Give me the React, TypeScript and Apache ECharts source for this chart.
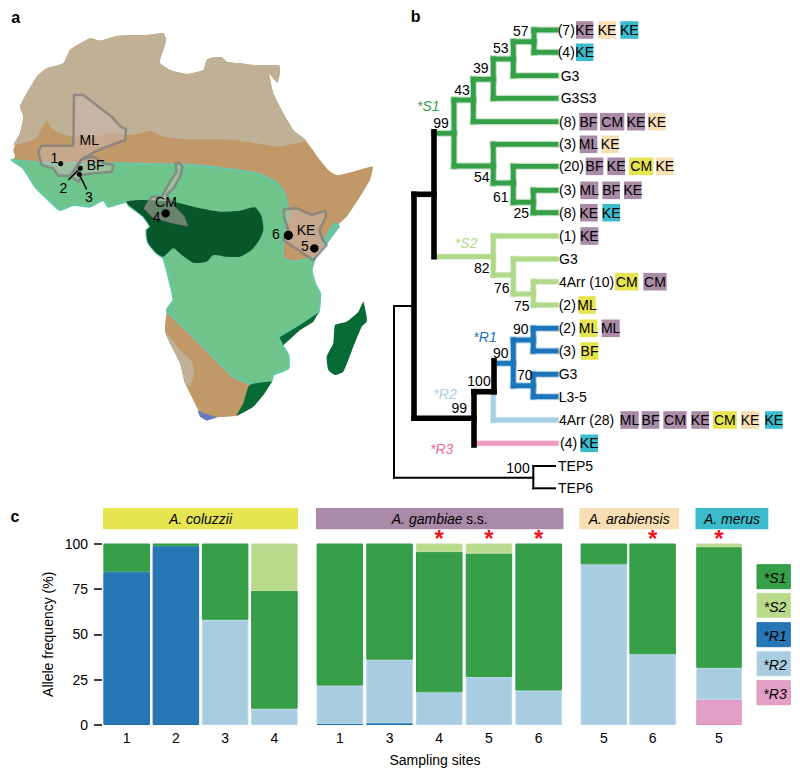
import React, { useEffect, useRef } from "react";
import * as echarts from "echarts";

const FONT = "Liberation Sans";

// ---------- panel c data ----------
const coluzziiSites = ["1", "2", "3", "4"];
const coluzziiS1 = [15.5, 1.5, 42, 65];
const coluzziiS2 = [null, null, null, 26];
const coluzziiR1 = [84.5, 98.5, null, null];
const coluzziiR2 = [null, null, 58, 9];
const coluzziiR3 = [null, null, null, null];

const gambiaeSites = ["1", "3", "4", "5", "6"];
const gambiaeS1 = [78.3, 64, 77.5, 68, 81];
const gambiaeS2 = [null, null, 4.5, 5.5, null];
const gambiaeR1 = [0.7, 1, null, null, null];
const gambiaeR2 = [21, 35, 18, 26.5, 19];
const gambiaeR3 = [null, null, null, null, null];

const arabiensisSites = ["5", "6"];
const arabiensisS1 = [11.5, 61];
const arabiensisS2 = [null, null];
const arabiensisR1 = [null, null];
const arabiensisR2 = [88.5, 39];
const arabiensisR3 = [null, null];

const merusSites = ["5"];
const merusS1 = [66.5];
const merusS2 = [2];
const merusR1 = [null];
const merusR2 = [17.5];
const merusR3 = [14];

const gambiaeStars = [2, 3, 4];
const arabiensisStars = [1];
const merusStars = [0];

const alleleNames = ["*S1", "*S2", "*R1", "*R2", "*R3"];
const alleleFill: Record<string, string> = { "*S1": "#379f47", "*S2": "#b9d98b", "*R1": "#2777b4", "*R2": "#a8cde1", "*R3": "#e39fc6" };
const alleleEdge: Record<string, string> = { "*S1": "#2f9a45", "*S2": "#c2de99", "*R1": "#1b6fb0", "*R2": "#b4d5e6", "*R3": "#e294c0" };

const speciesNames = ["A. coluzzii", "A. gambiae s.s.", "A. arabiensis", "A. merus"];
const speciesColors = ["#e6e44f", "#a98ba8", "#f8deb3", "#3bbccc"];

// ---------- panel a data (map outlines) ----------
const africaOutline = [[270,115],[300,122],[350,108],[400,105],[440,105],[490,100],[497,115],[495,135],[482,172],[480,190],[510,210],[560,222],[610,210],[620,180],[640,172],[665,172],[680,185],[720,190],[760,195],[800,195],[838,197],[840,215],[832,248],[808,222],[820,280],[850,340],[880,390],[920,425],[960,480],[985,510],[1010,525],[1060,515],[1118,500],[1110,540],[1080,590],[1040,650],[990,695],[975,720],[975,735],[945,770],[935,810],[945,850],[960,880],[955,935],[940,965],[900,990],[850,1035],[865,1065],[865,1105],[820,1125],[815,1145],[790,1185],[760,1220],[710,1247],[650,1252],[620,1260],[595,1230],[575,1190],[555,1150],[540,1090],[510,1030],[495,995],[500,935],[520,900],[510,850],[490,775],[470,760],[445,730],[440,710],[440,690],[450,680],[430,650],[385,615],[380,605],[325,620],[310,600],[270,620],[220,615],[180,630],[140,595],[105,560],[70,505],[35,480],[45,470],[40,450],[60,400],[70,350],[60,320],[80,280],[110,230],[140,205],[190,190],[210,150]];
const saharaRegion = [[40,435],[60,400],[70,350],[60,320],[80,280],[110,230],[140,205],[190,190],[210,150],[270,115],[300,122],[350,108],[400,105],[440,105],[490,100],[497,115],[495,135],[482,172],[480,190],[510,210],[560,222],[610,210],[620,180],[640,172],[665,172],[680,185],[720,190],[760,195],[800,195],[838,197],[840,215],[832,248],[808,222],[820,280],[850,340],[880,390],[920,422],[880,432],[830,440],[770,430],[700,420],[620,418],[560,418],[490,410],[450,392],[420,400],[390,405],[330,398],[290,412],[240,412],[185,403],[155,385],[140,362],[128,380],[105,418]];
const greenRegion = [[35,480],[60,482],[120,488],[330,490],[600,497],[770,520],[830,548],[855,585],[867,640],[855,690],[850,720],[848,750],[850,775],[880,785],[920,778],[945,770],[935,810],[945,850],[960,880],[955,938],[900,975],[838,1012],[850,1040],[865,1065],[865,1105],[820,1125],[812,1148],[755,1152],[700,1130],[620,1050],[560,990],[500,932],[520,900],[510,850],[490,775],[470,760],[445,730],[440,710],[440,690],[450,680],[430,650],[385,615],[380,605],[325,620],[310,600],[270,620],[220,615],[180,630],[140,595],[105,560],[70,505]];
const centralForest = [[380,605],[420,600],[520,605],[600,625],[660,635],[720,632],[765,622],[785,650],[790,690],[778,720],[755,750],[720,770],[680,770],[640,765],[620,785],[580,788],[545,765],[520,745],[490,770],[470,760],[445,730],[440,710],[440,690],[450,680],[430,650],[385,615]];
const mozambiqueStrip = [[955,938],[900,975],[838,1012],[850,1036],[900,990],[940,965]];
const capeStrip = [[815,1145],[790,1185],[760,1220],[710,1247],[730,1210],[745,1160],[755,1152]];
const madagascar = [[1090,905],[1100,950],[1100,965],[1085,980],[1060,1040],[1030,1115],[1005,1125],[985,1110],[980,1070],[1000,1030],[1005,975],[1040,965],[1075,935]];
const namibDesert = [[497,995],[540,1050],[575,1085],[582,1115],[570,1160],[555,1150],[540,1090],[510,1030]];
const capeBlue = [[592,1230],[610,1240],[652,1252],[620,1262],[600,1250]];
const coastStrip = [[1000,670],[1015,668],[1020,680],[975,740],[960,735],[985,690]];
const mali = [[222,285],[250,285],[335,350],[362,380],[378,388],[375,420],[320,440],[285,455],[245,478],[230,500],[210,527],[175,527],[160,505],[125,495],[115,455],[125,437],[220,437]];
const burkina = [[245,478],[280,470],[310,490],[340,495],[335,515],[280,520],[245,525],[235,545],[215,530],[230,500]];
const cameroon = [[535,487],[547,500],[540,530],[520,565],[500,585],[525,625],[550,650],[560,675],[510,665],[460,650],[435,625],[455,590],[485,590],[510,545],[530,515],[527,490]];
const kenya = [[852,628],[890,625],[935,645],[975,632],[978,650],[958,690],[968,720],[980,735],[940,780],[850,720],[865,690],[852,650]];

const COUNTRY_FILL = "rgba(205,185,180,0.48)";
const COUNTRY_EDGE = "rgba(128,128,124,0.8)";
const mapLayers = [
  { pts: africaOutline, fill: "#c19868", smooth: 0.15 },
  { pts: saharaRegion, fill: "#c0b196", smooth: 0.15 },
  { pts: greenRegion, fill: "#6fc48b", edge: "#66c9a8", lw: 2, smooth: 0.15 },
  { pts: centralForest, fill: "#08562a", smooth: 0.2 },
  { pts: mozambiqueStrip, fill: "#066a35", smooth: 0 },
  { pts: capeStrip, fill: "#066a35", smooth: 0.1 },
  { pts: madagascar, fill: "#066a35", smooth: 0.15 },
  { pts: namibDesert, fill: "#c0b196", smooth: 0.2 },
  { pts: capeBlue, fill: "#6379c0", smooth: 0 },
  { pts: coastStrip, fill: "#6fc4a0", smooth: 0 },
  { pts: mali, fill: COUNTRY_FILL, edge: COUNTRY_EDGE, lw: 2.5, smooth: 0 },
  { pts: burkina, fill: COUNTRY_FILL, edge: COUNTRY_EDGE, lw: 2.5, smooth: 0 },
  { pts: cameroon, fill: COUNTRY_FILL, edge: COUNTRY_EDGE, lw: 2.5, smooth: 0 },
  { pts: kenya, fill: COUNTRY_FILL, edge: COUNTRY_EDGE, lw: 2.5, smooth: 0 },
];

const mapLabels: [number, number, string][] = [[268,420,"ML"],[287,495,"BF"],[498,606,"CM"],[918,690,"KE"],[163,473,"1"],[190,563,"2"],[267,592,"3"],[470,650,"4"],[915,737,"5"],[828,703,"6"]];
const siteDots = [[182,491,2.6],[241,505,2.6],[238,523,2.6],[497,640,4.2],[943,745,4.2],[865,706,4.6]];
const leaderLines = [[241,505,205,540],[238,523,260,568]];

// ---------- panel b data (tree) ----------
const S1 = "#35a047", S2 = "#b2d98a", R1 = "#1b75bb", R2 = "#a8cfe3", R3 = "#f09cc0", BK = "#000000";
const s1Branches = [[434,133.3,454,133.3],[454,100,454,166],[454,100,473.3,100],[473.3,79.3,473.3,121.7],[473.3,121.7,556,121.7],[473.3,79.3,493.3,79.3],[493.3,59,493.3,98.3],[493.3,98.3,556,98.3],[493.3,59,513.3,59],[513.3,41.7,513.3,75.7],[513.3,75.7,556,75.7],[513.3,41.7,534,41.7],[534,30,534,52.3],[534,30,556,30],[534,52.3,556,52.3],[454,166,493.3,166],[493.3,144.3,493.3,183],[493.3,144.3,556,144.3],[493.3,183,513.3,183],[513.3,166.3,513.3,202.3],[513.3,166.3,556,166.3],[513.3,202.3,533.3,202.3],[533.3,190.3,533.3,212.7],[533.3,190.3,556,190.3],[533.3,212.7,556,212.7]];
const s2Branches = [[436,256.7,493.3,256.7],[493.3,236,493.3,275],[493.3,236,556,236],[493.3,275,513.3,275],[513.3,259,513.3,294],[513.3,259,556,259],[513.3,294,533.3,294],[533.3,281.7,533.3,305],[533.3,281.7,556,281.7],[533.3,305,556,305]];
const r1Branches = [[496,363.3,513.3,363.3],[513.3,340,513.3,385.7],[513.3,340,533.3,340],[533.3,328.3,533.3,351],[533.3,328.3,556,328.3],[533.3,351,556,351],[513.3,385.7,533.3,385.7],[533.3,374.3,533.3,396.7],[533.3,374.3,556,374.3],[533.3,396.7,556,396.7]];
const r2Branches = [[493.3,394,493.3,420],[493.3,420,556,420]];
const r3Branches = [[476,443.3,556,443.3]];
const thickBlack = [[434,131.7,434,256.7],[414,194.3,434,194.3],[414,194.3,414,418.3],[414,418.3,474,418.3],[474,391.7,474,445],[474,391.7,494,391.7],[494,360.7,494,391.7]];
const thinBlack = [[394,306,414,306],[394,306,394,477.7],[394,477.7,533.3,477.7],[533.3,466,533.3,488.3],[533.3,466,555,466],[533.3,488.3,555,488.3]];
const branchStyles = [
  { segs: thinBlack, color: BK, width: 2, halo: 0 },
  { segs: s1Branches, color: S1, width: 4.8, halo: 7 },
  { segs: s2Branches, color: S2, width: 4.8, halo: 6.5 },
  { segs: r1Branches, color: R1, width: 4.8, halo: 7 },
  { segs: r2Branches, color: R2, width: 4.8, halo: 6.5 },
  { segs: r3Branches, color: R3, width: 4.8, halo: 6.5 },
  { segs: thickBlack, color: BK, width: 5.6, halo: 0 },
];

const supportLabels: [number, number, string][] = [[520.7,30.7,"57"],[500.7,48.3,"53"],[480.7,68.3,"39"],[462,90,"43"],[441,122.7,"99"],[481.7,176.7,"54"],[500.7,196.7,"61"],[521.3,213.3,"25"],[481.7,268.3,"82"],[501.7,288.3,"76"],[521.7,305.7,"75"],[520.7,329.3,"90"],[500.7,352.7,"90"],[524.7,374.7,"70"],[479,381,"100"],[459.3,407.7,"99"],[518,467.7,"100"]];
const cladeLabels: [number, number, string, string][] = [[428.3,106,"*S1",S1],[466,243.3,"*S2",S2],[485,336.7,"*R1",R1],[445,394,"*R2",R2],[441.7,449.3,"*R3","#ee6aa0"]];
const leafTexts: [number, number, string][] = [[557.7,30,"(7)"],[557.7,52.3,"(4)"],[560.7,75.7,"G3"],[560.7,98.3,"G3S3"],[559,121.7,"(8)"],[559,144.3,"(3)"],[559,166.3,"(20)"],[559,190.3,"(3)"],[559,212.7,"(8)"],[559,236,"(1)"],[559,259,"G3"],[559,281.7,"4Arr (10)"],[558.7,305,"(2)"],[558.7,328.3,"(2)"],[558.7,351,"(3)"],[558.7,374.3,"G3"],[558.7,396.7,"L3-5"],[559,420,"4Arr (28)"],[560,443.3,"(4)"],[558,466,"TEP5"],[558,488.3,"TEP6"]];
const P = "#a98ba8", Y = "#e6e44f", B = "#f8deb3", T = "#3bbccc";
const tagRows: [number, [number, number, string, string][]][] = [
  [30, [[558,610,"KE",P],[625,677,"KE",B],[691,745,"KE",T]]],
  [52.3, [[558,610,"KE",T]]],
  [121.7, [[568,622,"BF",P],[630,703,"CM",P],[711,765,"KE",P],[774,827,"KE",B]]],
  [144.3, [[569,622,"ML",P],[634,687,"KE",B]]],
  [166.3, [[587,640,"BF",P],[652,705,"KE",P],[717,790,"CM",Y],[798,851,"KE",B]]],
  [190.3, [[571,625,"ML",P],[637,690,"BF",P],[702,755,"KE",P]]],
  [212.7, [[570,623,"KE",P],[637,690,"KE",T]]],
  [236, [[571,625,"KE",P]]],
  [281.7, [[675,745,"CM",Y],[760,830,"CM",P]]],
  [305, [[565,617,"ML",Y]]],
  [328.3, [[569,622,"ML",Y],[635,689,"ML",P]]],
  [351, [[572,625,"BF",Y]]],
  [420, [[691,746,"ML",P],[755,808,"BF",P],[820,890,"CM",P],[904,957,"KE",P],[969,1040,"CM",Y],[1053,1107,"KE",B],[1125,1178,"KE",T]]],
  [443.3, [[571,624,"KE",T]]],
];

const legendTops = [564.7, 593.3, 622.7, 651.7, 680.7];

function textEl(x: number, y: number, text: string, opts: any = {}) {
  return {
    type: "text", x, y, z: 20, silent: true,
    style: { text, fontFamily: FONT, fontSize: 14, fill: "#000", align: "center", verticalAlign: "middle", ...opts },
  };
}

function buildOption() {
  const panels = [
    { left: 102, width: 197, cats: coluzziiSites, S1: coluzziiS1, S2: coluzziiS2, R1: coluzziiR1, R2: coluzziiR2, R3: coluzziiR3, stars: [] as number[], bw: 46.5 },
    { left: 315, width: 248.5, cats: gambiaeSites, S1: gambiaeS1, S2: gambiaeS2, R1: gambiaeR1, R2: gambiaeR2, R3: gambiaeR3, stars: gambiaeStars, bw: 46.5 },
    { left: 579.5, width: 97.5, cats: arabiensisSites, S1: arabiensisS1, S2: arabiensisS2, R1: arabiensisR1, R2: arabiensisR2, R3: arabiensisR3, stars: arabiensisStars, bw: 46.5 },
    { left: 696, width: 46, cats: merusSites, S1: merusS1, S2: merusS2, R1: merusR1, R2: merusR2, R3: merusR3, stars: merusStars, bw: 45.5 },
  ];
  const grid: any[] = panels.map((p) => ({ left: p.left, width: p.width, top: 543.5, height: 181.5 }));
  grid.push({ left: 0, top: 0, width: 400, height: 500 });
  grid.push({ left: 0, top: 0, width: 800, height: 500 });

  const xAxis: any[] = panels.map((p, i) => ({
    type: "category", gridIndex: i, data: p.cats,
    axisLine: { show: false }, axisTick: { show: false },
    axisLabel: { fontFamily: FONT, fontSize: 14, color: "#000", margin: 6 },
  }));
  const yAxis: any[] = panels.map((p, i) => ({
    type: "value", gridIndex: i, min: 0, max: 100, interval: 25, show: i === 0,
    axisLine: { show: false }, splitLine: { show: false },
    axisTick: { show: true, length: 8, lineStyle: { color: "#000", width: 1.5 } },
    axisLabel: { fontFamily: FONT, fontSize: 14, color: "#000", margin: 14 },
    name: "Allele frequency (%)", nameLocation: "middle", nameGap: 47, nameRotate: 90,
    nameTextStyle: { fontFamily: FONT, fontSize: 14, color: "#000" },
  }));
  xAxis.push({ type: "value", gridIndex: 4, min: 0, max: 1200, show: false });
  yAxis.push({ type: "value", gridIndex: 4, min: 0, max: 1500, inverse: true, show: false });
  xAxis.push({ type: "value", gridIndex: 5, min: 0, max: 800, show: false });
  yAxis.push({ type: "value", gridIndex: 5, min: 0, max: 500, inverse: true, show: false });

  const series: any[] = [];
  // map
  series.push({
    type: "custom", xAxisIndex: 4, yAxisIndex: 4, silent: true, z: 1,
    data: mapLayers.map((_, i) => [i]),
    renderItem: (params: any, api: any) => {
      const l: any = mapLayers[params.dataIndex];
      return {
        type: "polygon",
        shape: { points: l.pts.map((p: number[]) => api.coord(p)), smooth: l.smooth },
        style: { fill: l.fill, stroke: l.edge || "none", lineWidth: l.lw || 0, lineJoin: "round" },
      };
    },
  });
  // leader lines + site dots
  series.push({
    type: "custom", xAxisIndex: 4, yAxisIndex: 4, silent: true, z: 2,
    data: leaderLines,
    renderItem: (_: any, api: any) => {
      const a = api.coord([api.value(0), api.value(1)]);
      const b = api.coord([api.value(2), api.value(3)]);
      return { type: "line", shape: { x1: a[0], y1: a[1], x2: b[0], y2: b[1] }, style: { stroke: "#000", lineWidth: 1.4 } };
    },
  });
  series.push({
    type: "custom", xAxisIndex: 4, yAxisIndex: 4, silent: true, z: 3,
    data: siteDots,
    renderItem: (_: any, api: any) => {
      const a = api.coord([api.value(0), api.value(1)]);
      return { type: "circle", shape: { cx: a[0], cy: a[1], r: api.value(2) }, style: { fill: "#000" } };
    },
  });
  // tree: a pale halo pass below each clade, then the branch itself
  branchStyles.forEach((b, k) => {
    const draw = (stroke: string, lineWidth: number, opacity: number) => (_: any, api: any) => {
      const p = api.coord([api.value(0), api.value(1)]);
      const q = api.coord([api.value(2), api.value(3)]);
      return { type: "line", shape: { x1: p[0], y1: p[1], x2: q[0], y2: q[1] }, style: { stroke, lineWidth, opacity, lineCap: "square" } };
    };
    if (b.halo) {
      series.push({ type: "custom", xAxisIndex: 5, yAxisIndex: 5, silent: true, z: 4, data: b.segs, renderItem: draw(b.color, b.halo, 0.3) });
    }
    series.push({ type: "custom", xAxisIndex: 5, yAxisIndex: 5, silent: true, z: 5 + k, data: b.segs, renderItem: draw(b.color, b.width, 1) });
  });
  // bars
  panels.forEach((p: any, i) => {
    ["*R3", "*R1", "*R2", "*S1", "*S2"].forEach((name) => {
      const key = name.slice(1);
      series.push({
        type: "bar", name, xAxisIndex: i, yAxisIndex: i, stack: "s" + i, barWidth: p.bw, silent: true,
        data: p[key],
        itemStyle: { color: alleleFill[name], borderColor: alleleEdge[name], borderWidth: 1 },
      });
    });
    if (p.stars.length) {
      series.push({
        type: "custom", xAxisIndex: i, yAxisIndex: i, silent: true, z: 12,
        data: p.stars.map((s: number) => [s, 100]),
        renderItem: (_: any, api: any) => {
          const c = api.coord([api.value(0), api.value(1)]);
          return {
            type: "text", x: c[0], y: c[1] - 5,
            style: { text: "*", fontFamily: FONT, fontWeight: "bold", fontSize: 24, fill: "#f0141e", align: "center", verticalAlign: "middle" },
          };
        },
      });
    }
  });

  // graphics
  const g: any[] = [];
  g.push(textEl(15.7, 17, "a", { fontWeight: "bold", fontSize: 16 }));
  g.push(textEl(415.7, 16, "b", { fontWeight: "bold", fontSize: 16 }));
  g.push(textEl(15, 516.5, "c", { fontWeight: "bold", fontSize: 16 }));
  mapLabels.forEach(([x, y, t]) => g.push(textEl(x / 3, y / 3, t)));
  supportLabels.forEach(([x, y, t]) => g.push(textEl(x, y, t)));
  cladeLabels.forEach(([x, y, t, c]) => g.push(textEl(x, y, t, { fill: c, fontStyle: "italic" })));
  leafTexts.forEach(([x, y, t]) => g.push(textEl(x, y, t, { align: "left" })));
  tagRows.forEach(([y, items]) => {
    items.forEach(([a, b, t, c]) => {
      const x0 = 390 + a / 3, x1 = 390 + b / 3;
      g.push({ type: "rect", z: 15, silent: true, shape: { x: x0, y: y - 8.8, width: x1 - x0, height: 17.6 }, style: { fill: c } });
      g.push(textEl((x0 + x1) / 2, y, t));
    });
  });
  const spanX = [[103, 298], [316, 563.5], [579.5, 679], [695.5, 768.3]];
  speciesNames.forEach((n, i) => {
    const [a, b] = spanX[i];
    g.push({ type: "rect", z: 15, silent: true, shape: { x: a, y: 508, width: b - a, height: 21.3 }, style: { fill: speciesColors[i] } });
    if (n === "A. gambiae s.s.") {
      g.push({
        type: "text", z: 20, silent: true, x: (a + b) / 2, y: 518.7,
        style: {
          text: "{i|A. gambiae} {n|s.s.}", align: "center", verticalAlign: "middle",
          rich: { i: { fontFamily: FONT, fontSize: 14, fontStyle: "italic", fill: "#000" }, n: { fontFamily: FONT, fontSize: 14, fill: "#000" } },
        },
      });
    } else {
      g.push(textEl((a + b) / 2, 518.7, n, { fontStyle: "italic" }));
    }
  });
  alleleNames.forEach((n, i) => {
    g.push({ type: "rect", z: 15, silent: true, shape: { x: 757, y: legendTops[i], width: 33.3, height: 24 }, style: { fill: alleleFill[n], stroke: alleleEdge[n], lineWidth: 1 } });
    g.push(textEl(775, legendTops[i] + 13.5, n, { fontStyle: "italic" }));
  });
  g.push(textEl(435, 760, "Sampling sites"));

  return { animation: false, backgroundColor: "#fff", grid, xAxis, yAxis, series, graphic: g };
}

export default function App() {
  const ref = useRef<HTMLDivElement>(null);
  useEffect(() => {
    const chart = echarts.init(ref.current!, undefined, { renderer: "svg" });
    chart.setOption(buildOption() as any);
    return () => chart.dispose();
  }, []);
  return <div ref={ref} style={{ position: "absolute", left: 0, top: 0, width: 800, height: 777 }} />;
}
